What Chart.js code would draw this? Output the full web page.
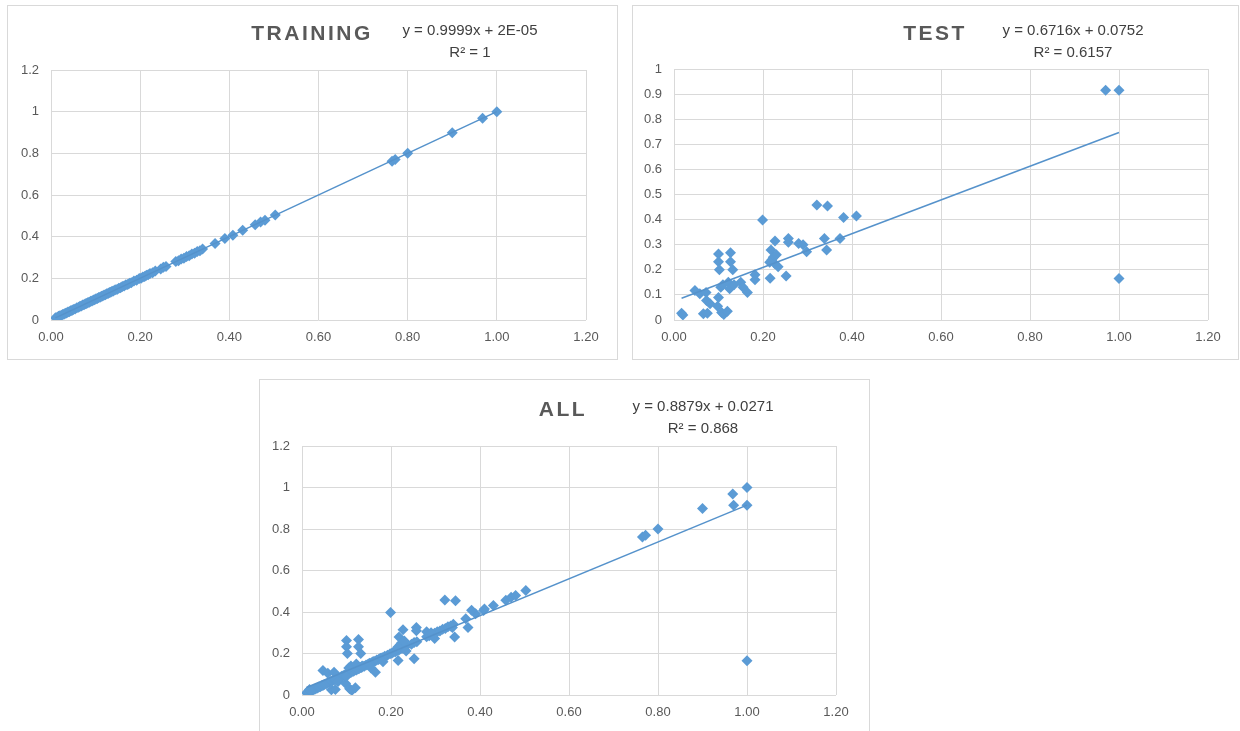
<!DOCTYPE html>
<html>
<head>
<meta charset="utf-8">
<script src="https://cdn.jsdelivr.net/npm/chart.js@4.4.0/dist/chart.umd.min.js"></script>
<style>
    body { margin: 0; background: #fff; width: 1240px; height: 731px; overflow: hidden; position: relative; font-family: 'Liberation Sans', Arial, sans-serif; }
    .panel { position: absolute; border: 1px solid #d9d9d9; box-sizing: border-box; background: #fff; }
    .panel canvas { position: absolute; left: 0; top: 0; }
    .lbl { position: absolute; transform: translate(-50%, -50%); white-space: nowrap; color: #595959; }
    .title { font-weight: bold; font-size: 21px; letter-spacing: 2.5px; }
    .eq { font-size: 15px; text-align: center; line-height: 22px; color: #404040; }
</style>
</head>
<body>
<div class="panel" style="left:7px; top:5px; width:611px; height:355px;"><canvas id="train" width="609" height="353"></canvas></div>
<div class="panel" style="left:632px; top:5px; width:607px; height:355px;"><canvas id="test" width="605" height="353"></canvas></div>
<div class="panel" style="left:259px; top:379px; width:611px; height:360px;"><canvas id="all" width="609" height="358"></canvas></div>

<div class="lbl title" style="left:312px; top:33px;">TRAINING</div>
<div class="lbl eq" style="left:470px; top:41px;">y = 0.9999x + 2E-05<br>R² = 1</div>
<div class="lbl title" style="left:935px; top:33px;">TEST</div>
<div class="lbl eq" style="left:1073px; top:41px;">y = 0.6716x + 0.0752<br>R² = 0.6157</div>
<div class="lbl title" style="left:563px; top:409px;">ALL</div>
<div class="lbl eq" style="left:703px; top:417px;">y = 0.8879x + 0.0271<br>R² = 0.868</div>

<script>
// axis ticks
const xTicks = [0, 0.2, 0.4, 0.6, 0.8, 1.0, 1.2];
const yTicksWide = [0, 0.2, 0.4, 0.6, 0.8, 1.0, 1.2];
const yTicksTest = [0, 0.1, 0.2, 0.3, 0.4, 0.5, 0.6, 0.7, 0.8, 0.9, 1.0];

// training set (observed x, predicted y)
const trainX = [0.010, 0.014, 0.017, 0.020, 0.023, 0.026, 0.029, 0.032, 0.035, 0.038,
    0.041, 0.044, 0.047, 0.050, 0.054, 0.058, 0.062, 0.065, 0.068, 0.071,
    0.074, 0.077, 0.080, 0.083, 0.086, 0.089, 0.092, 0.095, 0.098, 0.101,
    0.104, 0.107, 0.110, 0.113, 0.116, 0.119, 0.122, 0.125, 0.128, 0.131,
    0.134, 0.137, 0.140, 0.144, 0.148, 0.152, 0.156, 0.160, 0.164, 0.168,
    0.172, 0.176, 0.180, 0.186, 0.192, 0.198, 0.202, 0.206, 0.210, 0.214,
    0.218, 0.222, 0.228, 0.234, 0.246, 0.252, 0.258, 0.280, 0.286, 0.292,
    0.298, 0.304, 0.310, 0.316, 0.322, 0.328, 0.334, 0.340, 0.368, 0.390,
    0.408, 0.430, 0.458, 0.470, 0.480, 0.503, 0.765, 0.772, 0.800, 0.900,
    0.968, 1.000];
const trainY = [0.011, 0.013, 0.018, 0.021, 0.022, 0.027, 0.028, 0.033, 0.034, 0.039,
    0.040, 0.045, 0.046, 0.051, 0.053, 0.059, 0.061, 0.066, 0.067, 0.072,
    0.073, 0.078, 0.079, 0.084, 0.085, 0.090, 0.091, 0.096, 0.097, 0.102,
    0.103, 0.108, 0.109, 0.114, 0.115, 0.120, 0.121, 0.126, 0.127, 0.132,
    0.133, 0.138, 0.139, 0.145, 0.147, 0.153, 0.155, 0.161, 0.163, 0.169,
    0.171, 0.177, 0.179, 0.187, 0.191, 0.199, 0.201, 0.207, 0.209, 0.215,
    0.217, 0.223, 0.227, 0.235, 0.245, 0.253, 0.257, 0.281, 0.285, 0.293,
    0.297, 0.305, 0.309, 0.317, 0.321, 0.329, 0.333, 0.341, 0.367, 0.391,
    0.407, 0.431, 0.457, 0.471, 0.479, 0.504, 0.762, 0.770, 0.800, 0.899,
    0.969, 1.000];

// test set
const testX = [0.017, 0.020, 0.047, 0.058, 0.066, 0.072, 0.075, 0.073, 0.081, 0.100,
    0.100, 0.102, 0.127, 0.127, 0.132, 0.098, 0.100, 0.107, 0.112, 0.120,
    0.105, 0.110, 0.122, 0.125, 0.135, 0.150, 0.155, 0.165, 0.182, 0.182,
    0.199, 0.216, 0.218, 0.220, 0.223, 0.226, 0.230, 0.234, 0.227, 0.215,
    0.252, 0.257, 0.257, 0.280, 0.290, 0.298, 0.321, 0.345, 0.338, 0.343,
    0.373, 0.381, 0.410, 0.970, 1.000, 1.000];
const testY = [0.027, 0.020, 0.118, 0.105, 0.025, 0.110, 0.027, 0.078, 0.065, 0.263,
    0.232, 0.200, 0.268, 0.232, 0.200, 0.055, 0.090, 0.030, 0.022, 0.035,
    0.130, 0.140, 0.150, 0.125, 0.140, 0.150, 0.130, 0.110, 0.180, 0.160,
    0.398, 0.166, 0.279, 0.240, 0.250, 0.225, 0.260, 0.212, 0.315, 0.230,
    0.175, 0.325, 0.310, 0.305, 0.300, 0.272, 0.458, 0.454, 0.325, 0.279,
    0.325, 0.408, 0.414, 0.915, 0.915, 0.165];

// all = training + test
const allX = trainX.concat(testX);
const allY = trainY.concat(testY);

// trendline [slope, intercept]
const trainFit = [0.9999, 0.00002];
const testFit = [0.6716, 0.0752];
const allFit = [0.8879, 0.0271];

const grey = '#595959';
const blue = '#5b9bd5';

function makeChart(id, xs, ys, fit, yTicks, box) {
    const pts = xs.map((x, i) => ({ x: x, y: ys[i] }));
    const lo = Math.min(...xs), hi = Math.max(...xs);
    const trend = [lo, hi].map(x => ({ x: x, y: fit[0] * x + fit[1] }));
    return new Chart(document.getElementById(id), {
        type: 'scatter',
        data: {
            datasets: [{
                data: trend,
                showLine: true,
                borderColor: '#5592cb',
                borderWidth: 1.5,
                pointRadius: 0,
                order: 0
            }, {
                data: pts,
                pointStyle: 'rectRot',
                pointRadius: 5.5,
                backgroundColor: blue,
                borderColor: blue,
                borderWidth: 0,
                order: 1
            }]
        },
        options: {
            responsive: false,
            animation: false,
            events: [],
            layout: { padding: { top: box.top, right: box.right, left: 0, bottom: 0 } },
            plugins: { legend: { display: false }, tooltip: { enabled: false } },
            scales: {
                x: {
                    type: 'linear',
                    min: 0,
                    max: 1.2,
                    afterBuildTicks: s => { s.ticks = xTicks.map(v => ({ value: v })); },
                    afterFit: s => { s.height = box.bottom; },
                    ticks: { callback: v => v.toFixed(2), color: grey, font: { size: 13 }, maxRotation: 0, padding: 10 },
                    grid: { color: '#d9d9d9', drawTicks: false },
                    border: { display: false }
                },
                y: {
                    min: 0,
                    max: yTicks[yTicks.length - 1],
                    afterBuildTicks: s => { s.ticks = yTicks.map(v => ({ value: v })); },
                    afterFit: s => { s.width = box.left; },
                    ticks: { callback: v => String(Math.round(v * 10) / 10), color: grey, font: { size: 13 }, padding: 12 },
                    grid: { color: '#d9d9d9', drawTicks: false },
                    border: { display: false }
                }
            }
        }
    });
}

makeChart('train', trainX, trainY, trainFit, yTicksWide, { left: 43, top: 64, right: 31, bottom: 39 });
makeChart('test', testX, testY, testFit, yTicksTest, { left: 41, top: 63, right: 30, bottom: 39 });
makeChart('all', allX, allY, allFit, yTicksWide, { left: 42, top: 66, right: 33, bottom: 43 });
</script>
</body>
</html>
